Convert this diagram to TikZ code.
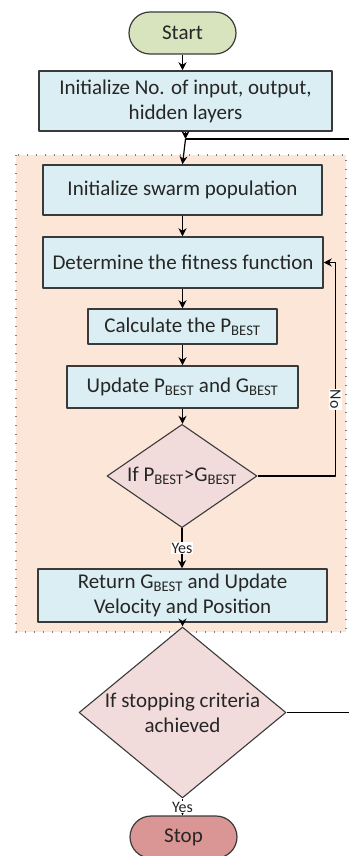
\documentclass[tikz,border=0pt]{standalone}
\usepackage{fontspec}
\setmainfont{Carlito}
\usetikzlibrary{shapes.geometric,shapes.misc,arrows.meta}
\definecolor{boxblue}{HTML}{DBEEF3}
\definecolor{framepeach}{HTML}{FCE6D8}
\definecolor{startgreen}{HTML}{D7E4BD}
\definecolor{diapink}{HTML}{F2DCDB}
\definecolor{stopred}{HTML}{DA9694}
\definecolor{edge}{HTML}{3A3A3A}
\begin{document}
\begin{tikzpicture}[x=1pt, y=-1pt, font=\fontsize{21}{25}\selectfont, text=black!85, line join=round, >={Stealth[length=8pt,width=8pt]},
	box/.style={draw=edge, line width=1.5pt, fill=boxblue, align=center, inner sep=0pt},
	term/.style={draw=edge, line width=1.2pt, rounded rectangle, minimum width=107pt, minimum height=42pt, inner sep=0pt},
	dia/.style={draw=edge, line width=1.1pt, fill=diapink, diamond, align=center, inner sep=-6pt},
	lbl/.style={fill=white, inner sep=1pt, font=\fontsize{16}{18}\selectfont},
	flow/.style={->, line width=1.2pt}]%PSO flowchart
	\useasboundingbox (0,0) rectangle (348,856);
	\def\sb#1{\textsubscript{#1}}
	\fill[framepeach] (16,155) rectangle (346,632);
	\draw[gray, line width=1.2pt, dash pattern=on 1.2pt off 7.8pt] (16,155) rectangle (346,632);
	\node[term, fill=startgreen] (st) at (182.5,33) {Start};
	\node[box, minimum width=293pt, minimum height=60pt] (ini) at (185.5,101) {Initialize No. of input, output,\\hidden layers};
	\coordinate (jn) at (185.5,139);
	\node[box, minimum width=279pt, minimum height=50pt] (pop) at (182.5,190) {Initialize swarm population};
	\node[box, minimum width=280pt, minimum height=51pt] (fit) at (183,262.5) {Determine the fitness function};
	\node[box, minimum width=189pt, minimum height=35pt] (cal) at (182.5,326.5) {Calculate the P\sb{BEST}};
	\node[box, minimum width=231pt, minimum height=42pt] (upd) at (182.5,387) {Update P\sb{BEST} and G\sb{BEST}};
	\node[dia, minimum width=150pt, minimum height=88pt] (ifb) at (182,476) {If P\sb{BEST}>G\sb{BEST}};
	\node[box, minimum width=289pt, minimum height=53pt] (ret) at (182.5,595.5) {Return G\sb{BEST} and Update\\Velocity and Position};
	\node[dia, minimum width=207pt, minimum height=119pt] (crit) at (182.5,712.5) {If stopping criteria\\achieved};
	\node[term, fill=stopred] (sp) at (183.5,837) {Stop};
	\draw[flow] (st.south -| 182.5,0) -- (ini.north -| 182.5,0);
	\draw[flow] (ini.south) -- (jn);
	\draw[flow] (jn) -- (pop.north);
	\foreach \a/\b in {pop/fit, fit/cal, cal/upd, upd/ifb}
	\draw[flow] (\a.south -| 182.5,0) -- (\b.north -| 182.5,0);
	\draw[flow] (ifb.south) -- node[lbl]{Yes} (ifb.south |- ret.north);
	\draw[flow] (ret.south -| 182.5,0) -- (crit.north);
	\draw[flow] (crit.south) -- node[lbl]{Yes} (crit.south |- sp.north);
	\draw[flow] (ifb.east) -- ++(78,0) coordinate (nr) -- node[lbl, rotate=-90, pos=0.36]{No} (nr |- fit.east) -- (fit.east);
	\draw[line width=1.2pt] (crit.east) -- ++(90,0) |- (jn);
\end{tikzpicture}
\end{document}
